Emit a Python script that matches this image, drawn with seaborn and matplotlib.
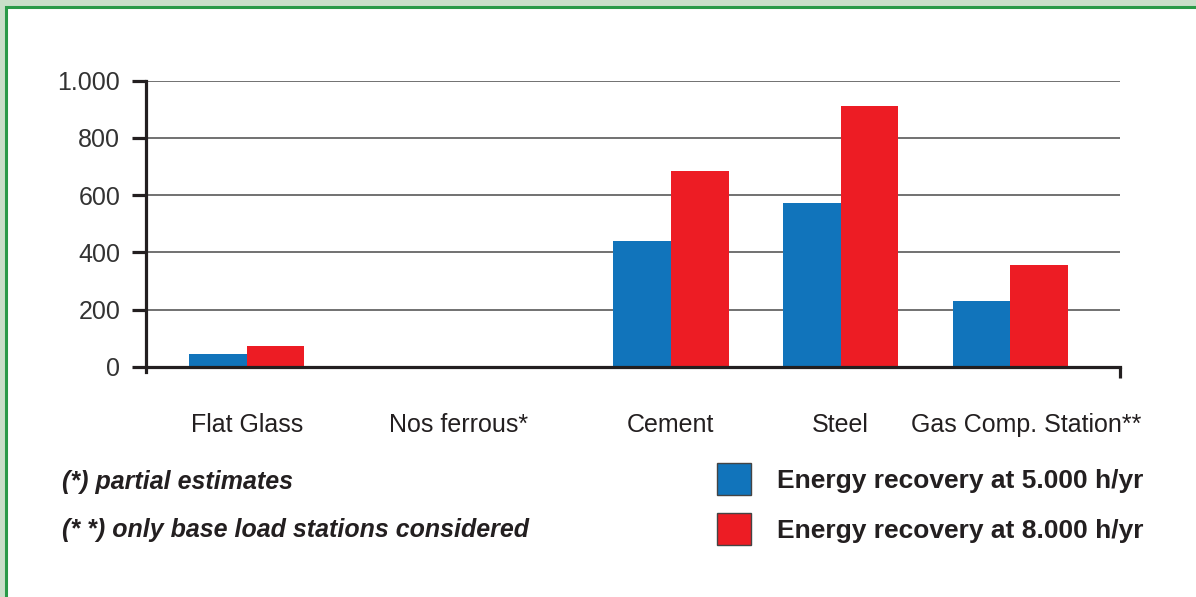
import matplotlib
matplotlib.use("Agg")
import matplotlib.pyplot as plt
from matplotlib.patches import Rectangle
from matplotlib.transforms import ScaledTranslation
import pandas as pd
import seaborn as sns

# Data
categories = ["Flat Glass", "Nos ferrous*", "Cement", "Steel", "Gas Comp. Station**"]
recovery_5000 = [46, 0, 441, 574, 232]
recovery_8000 = [72, 0, 685, 911, 357]
series_names = ["Energy recovery at 5.000 h/yr", "Energy recovery at 8.000 h/yr"]
y_ticks = [0, 200, 400, 600, 800, 1000]
y_tick_labels = ["0", "200", "400", "600", "800", "1.000"]
footnotes = ["(*) partial estimates", "(* *) only base load stations considered"]

# Layout: slot of each category group along the x axis
slots = [0, 1.25, 2.5, 3.5, 4.5]

df = pd.DataFrame({
    "slot": slots * 2,
    "value": recovery_5000 + recovery_8000,
    "series": [series_names[0]] * len(categories) + [series_names[1]] * len(categories),
})

sns.set_theme(style="white")
plt.rcParams["font.family"] = ["Liberation Sans", "DejaVu Sans"]

W, H = 1196, 597
fig = plt.figure(figsize=(W / 100, H / 100), dpi=100, facecolor="#c9dfc9")

# White panel with green frame
panel = Rectangle((6 / W, -0.2), 1.2, (1 - 7 / H) + 0.2,
                  transform=fig.transFigure, facecolor="white",
                  edgecolor="#2a9a48", linewidth=2.2, zorder=0)
fig.add_artist(panel)

ax = fig.add_axes([146 / W, 230 / H, (1120 - 146) / W, (516.3 - 230) / H])
ax.set_facecolor("none")

dark = "#231f20"
palette = ["#1174bb", "#ed1c24"]
sns.barplot(data=df, x="slot", y="value", hue="series", native_scale=True,
            hue_order=series_names, palette=palette, width=0.68, saturation=1,
            linewidth=0, ax=ax, zorder=3)

x_left, x_right = -0.594, 5.147
ax.set_xlim(x_left, x_right)
ax.set_ylim(0, 1000)
ax.set_xlabel("")
ax.set_ylabel("")

ax.set_yticks(y_ticks)
ax.set_yticklabels(y_tick_labels)
ax.set_xticks(slots)
ax.set_xticklabels(categories)
ax.yaxis.grid(True, color="#666666", linewidth=1.3, zorder=1)
ax.xaxis.grid(False)
ax.set_axisbelow(True)

for side in ["top", "right"]:
    ax.spines[side].set_visible(False)
for side in ["left", "bottom"]:
    ax.spines[side].set_color(dark)
    ax.spines[side].set_linewidth(2.3)
    ax.spines[side].set_zorder(4)
ax.spines["left"].set_bounds(-18, 1000)

ax.tick_params(axis="y", which="major", length=10, width=2.3, color=dark,
               pad=8.5, labelsize=18, labelcolor="#333333", left=True, direction="out")
ax.tick_params(axis="x", which="major", length=0, pad=33, labelsize=18, labelcolor=dark)
ax.set_xticks([x_right], minor=True)
ax.tick_params(axis="x", which="minor", length=8, width=2.3, color=dark,
               bottom=True, direction="out")

# Nudge the long last label to the right so it clears its neighbour
last_label = ax.get_xticklabels()[-1]
last_label.set_transform(last_label.get_transform()
                         + ScaledTranslation(16 / 100, 0, fig.dpi_scale_trans))

# Legend
sns.move_legend(ax, "upper left", bbox_to_anchor=(717 / W, 1 - 463 / H),
                bbox_transform=fig.transFigure, frameon=False, title=None,
                handlelength=1.29, handleheight=1.5, handletextpad=1.0,
                labelspacing=0.68, borderpad=0, borderaxespad=0,
                prop={"size": 19, "weight": "bold"})
leg = ax.get_legend()
for patch in leg.get_patches():
    patch.set_edgecolor("#444444")
    patch.set_linewidth(1.0)
for text in leg.get_texts():
    text.set_color(dark)

# Footnotes
fig.text(62 / W, 1 - 482 / H, footnotes[0], fontsize=18, fontweight="bold",
         fontstyle="italic", color=dark, va="center", ha="left")
fig.text(62 / W, 1 - 530 / H, footnotes[1], fontsize=18, fontweight="bold",
         fontstyle="italic", color=dark, va="center", ha="left")

fig.savefig("out.png", dpi=100, facecolor=fig.get_facecolor())
